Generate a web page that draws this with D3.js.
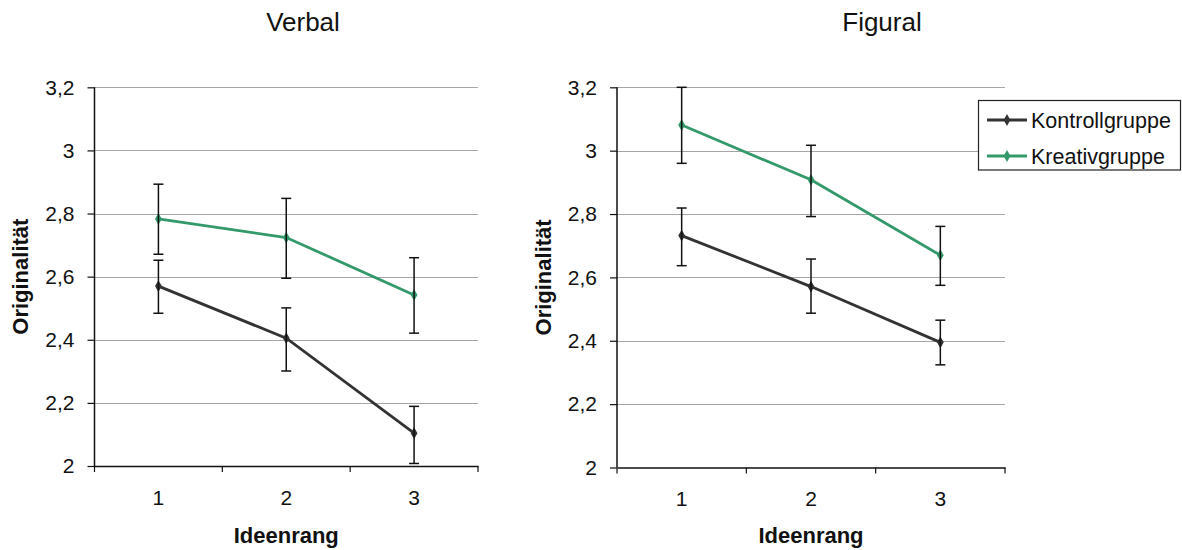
<!DOCTYPE html>
<html><head><meta charset="utf-8">
<script src="https://cdn.jsdelivr.net/npm/d3@7/dist/d3.min.js"></script>
<style>
html,body{margin:0;padding:0;background:#fff;}
svg{display:block;font-family:Arial,"Liberation Sans",sans-serif;}
</style></head>
<body><svg id="c" width="1182" height="550"></svg>
<script>
const categories = ["1", "2", "3"];
const yTickValues = [2, 2.2, 2.4, 2.6, 2.8, 3, 3.2];
const yTickLabels = ["2", "2,2", "2,4", "2,6", "2,8", "3", "3,2"];
const seriesNames = ["Kontrollgruppe", "Kreativgruppe"];

const verbalKontroll = [2.570, 2.405, 2.104];
const verbalKontrollLow = [2.484, 2.301, 2.008];
const verbalKontrollHigh = [2.652, 2.501, 2.189];
const verbalKreativ = [2.783, 2.724, 2.542];
const verbalKreativLow = [2.671, 2.595, 2.421];
const verbalKreativHigh = [2.893, 2.848, 2.660];

const figuralKontroll = [2.732, 2.571, 2.395];
const figuralKontrollLow = [2.637, 2.487, 2.324];
const figuralKontrollHigh = [2.819, 2.658, 2.465];
const figuralKreativ = [3.081, 2.908, 2.670];
const figuralKreativLow = [2.960, 2.792, 2.575];
const figuralKreativHigh = [3.200, 3.017, 2.761];

const colors = {"Kontrollgruppe": "#333333", "Kreativgruppe": "#33996a"};

const svg = d3.select("#c");

function panel(cfg) {
  const x = d3.scaleBand().domain(categories).range([cfg.x0, cfg.x1]);
  const y = d3.scaleLinear().domain([2, 3.2]).range([cfg.y0, cfg.y1]);
  const g = svg.append("g");

  // grid
  g.selectAll("line.grid").data(yTickValues.filter(v => v > 2)).enter().append("line")
    .attr("x1", cfg.x0).attr("x2", cfg.x1)
    .attr("y1", d => Math.round(y(d)) + 0.5).attr("y2", d => Math.round(y(d)) + 0.5)
    .attr("stroke", "#a6a6a6").attr("stroke-width", 1.2);

  // y axis
  const yAxis = d3.axisLeft(y).tickValues(yTickValues)
    .tickFormat((d, i) => yTickLabels[i]).tickSize(7).tickPadding(13);
  const ya = g.append("g").attr("transform", `translate(${cfg.x0},0)`).call(yAxis);
  ya.select(".domain").attr("stroke", "#111").attr("stroke-width", 1.5).attr("d", `M0,${cfg.y0}V${cfg.y1}`);
  ya.selectAll(".tick line").attr("stroke", "#111").attr("stroke-width", 1.2);
  ya.selectAll(".tick text").attr("font-size", 21).attr("fill", "#111")
    .attr("font-family", "Arial, 'Liberation Sans', sans-serif");

  // x axis
  const xa = g.append("g").attr("transform", `translate(0,${cfg.y0})`)
    .call(d3.axisBottom(x).tickSize(0).tickPadding(24));
  xa.select(".domain").attr("stroke", "#111").attr("stroke-width", 1.5);
  xa.selectAll(".tick text").attr("font-size", 21).attr("fill", "#111")
    .attr("font-family", "Arial, 'Liberation Sans', sans-serif");
  // boundary tick marks
  const bounds = categories.map(c => x(c)).concat([cfg.x1]);
  g.selectAll("line.xt").data(bounds).enter().append("line")
    .attr("x1", d => d).attr("x2", d => d)
    .attr("y1", cfg.y0).attr("y2", cfg.y0 + 6)
    .attr("stroke", "#111").attr("stroke-width", 1.2);

  const cx = c => x(c) + x.bandwidth() / 2;
  const line = d3.line().x((d, i) => cx(categories[i])).y(d => y(d));

  cfg.series.forEach(s => {
    g.append("path").datum(s.values).attr("d", line)
      .attr("fill", "none").attr("stroke", colors[s.name]).attr("stroke-width", 2.8);
    g.selectAll(null).data(s.values).enter().append("path")
      .attr("d", d3.symbol(d3.symbolDiamond, 40))
      .attr("transform", (d, i) => `translate(${cx(categories[i])},${y(d)})`)
      .attr("fill", colors[s.name]);
  });
  cfg.series.forEach(s => {
    categories.forEach((c, i) => {
      const xx = cx(c);
      g.append("line").attr("x1", xx).attr("x2", xx)
        .attr("y1", y(s.low[i])).attr("y2", y(s.high[i]))
        .attr("stroke", "#111").attr("stroke-width", 1.5);
      [s.low[i], s.high[i]].forEach(v => {
        g.append("line").attr("x1", xx - 5).attr("x2", xx + 5)
          .attr("y1", y(v)).attr("y2", y(v))
          .attr("stroke", "#111").attr("stroke-width", 1.5);
      });
    });
  });

  // titles
  svg.append("text").attr("x", cfg.titleX).attr("y", 31).attr("text-anchor", "middle")
    .attr("font-size", 26).attr("fill", "#111").text(cfg.title);
  svg.append("text").attr("x", (cfg.x0 + cfg.x1) / 2).attr("y", 543).attr("text-anchor", "middle")
    .attr("font-size", 22).attr("font-weight", "bold").attr("fill", "#111").text("Ideenrang");
  svg.append("text").attr("transform", `translate(${cfg.ylabX},${(cfg.y0 + cfg.y1) / 2}) rotate(-90)`)
    .attr("text-anchor", "middle").attr("font-size", 22).attr("font-weight", "bold")
    .attr("fill", "#111").text("Originalität");
}

panel({
  x0: 94.5, x1: 478, y0: 466, y1: 87.3, title: "Verbal", titleX: 303, ylabX: 28,
  series: [
    {name: "Kontrollgruppe", values: verbalKontroll, low: verbalKontrollLow, high: verbalKontrollHigh},
    {name: "Kreativgruppe", values: verbalKreativ, low: verbalKreativLow, high: verbalKreativHigh}
  ]
});
panel({
  x0: 617, x1: 1005, y0: 467.5, y1: 87.3, title: "Figural", titleX: 882, ylabX: 551,
  series: [
    {name: "Kontrollgruppe", values: figuralKontroll, low: figuralKontrollLow, high: figuralKontrollHigh},
    {name: "Kreativgruppe", values: figuralKreativ, low: figuralKreativLow, high: figuralKreativHigh}
  ]
});

// legend
const lg = svg.append("g");
lg.append("rect").attr("x", 978.5).attr("y", 100.5).attr("width", 202).attr("height", 69.5)
  .attr("fill", "#fff").attr("stroke", "#222").attr("stroke-width", 1.2);
const ly = d3.scalePoint().domain(seriesNames).range([120, 156]);
seriesNames.forEach(n => {
  lg.append("line").attr("x1", 987).attr("x2", 1027).attr("y1", ly(n)).attr("y2", ly(n))
    .attr("stroke", colors[n]).attr("stroke-width", 2.8);
  lg.append("path").attr("d", d3.symbol(d3.symbolDiamond, 40))
    .attr("transform", `translate(1007,${ly(n)})`).attr("fill", colors[n]);
  lg.append("text").attr("x", 1031).attr("y", ly(n) + 8).attr("font-size", 21.5)
    .attr("fill", "#111").text(n);
});
</script></body></html>
